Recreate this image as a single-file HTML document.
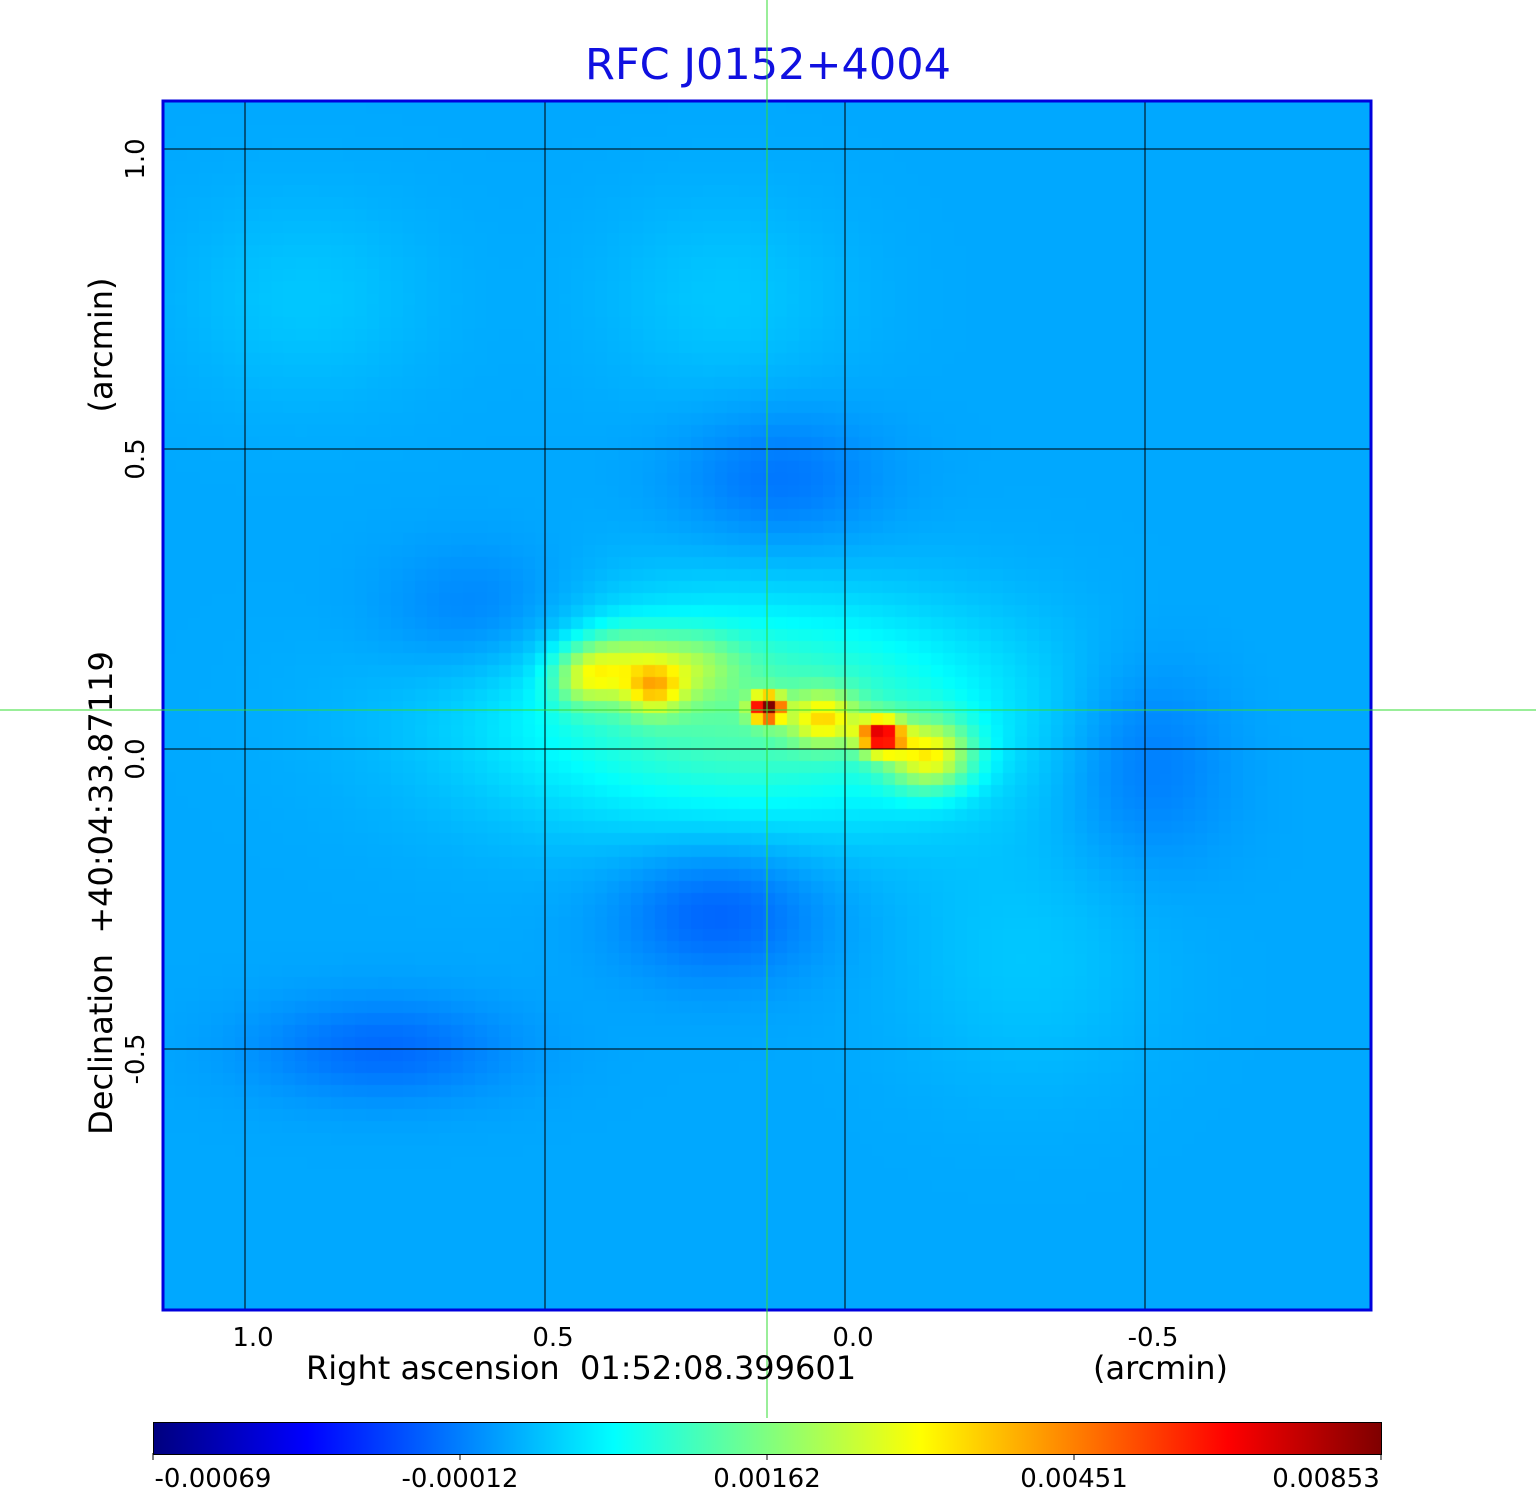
<!DOCTYPE html>
<html><head><meta charset="utf-8"><style>
body{margin:0;background:#fff;width:1536px;height:1511px;position:relative;overflow:hidden;font-family:"DejaVu Sans","Liberation Sans",sans-serif;}
.t{position:absolute;white-space:nowrap;color:#000;}
.rot{transform:translate(-50%,-50%) rotate(-90deg);}
</style></head><body>
<div class="t" style="left:0;width:1536px;top:40px;text-align:center;font-size:43px;color:#1010e0;">RFC J0152+4004</div>
<canvas id="map" width="1208" height="1209" style="position:absolute;left:163px;top:101px;"></canvas>
<svg id="ov" width="1536" height="1511" style="position:absolute;left:0;top:0;pointer-events:none"></svg>
<div class="t rot" style="left:101px;top:893px;font-size:32px;">Declination&nbsp; +40:04:33.87119</div>
<div class="t rot" style="left:101px;top:345px;font-size:32px;">(arcmin)</div>
<div class="t" style="left:306px;top:1349px;font-size:32px;">Right ascension&nbsp; 01:52:08.399601</div>
<div class="t" style="left:1093px;top:1349px;font-size:32px;">(arcmin)</div>
<div style="position:absolute;left:153px;top:1422px;width:1227px;height:31px;border:1px solid #000;background:linear-gradient(to right,#00007f 0%,#0000ff 12.5%,#00ffff 37.5%,#ffff00 62.5%,#ff0000 87.5%,#7f0000 100%);"></div>
<script>
// data
const xTicks=[1.0,0.5,0.0,-0.5];
const xTickLabels=["1.0","0.5","0.0","-0.5"];
const yTicks=[1.0,0.5,0.0,-0.5];
const yTickLabels=["1.0","0.5","0.0","-0.5"];
const cbarLabels=["-0.00069","-0.00012","0.00162","0.00451","0.00853"];
const background=0.29;
// components: ra offset (arcmin), dec offset, amplitude, sigma ra, sigma dec
const compRa=[0.16,0.43,0.37,0.32,0.26,0.13,0.035,-0.06,-0.14,0.21,0.11,0.77,0.6,-0.5,-0.3,0.9,0.2];
const compDec=[0.06,0.12,0.15,0.10,0.14,0.068,0.05,0.022,-0.01,-0.27,0.45,-0.5,0.22,-0.02,-0.35,0.75,0.75];
const compAmp=[0.17,0.19,0.12,0.2,0.12,0.6,0.22,0.48,0.26,-0.07,-0.05,-0.06,-0.05,-0.05,0.03,0.03,0.03];
const compSx=[0.3,0.04,0.05,0.035,0.06,0.018,0.04,0.025,0.05,0.12,0.12,0.15,0.12,0.1,0.15,0.15,0.15];
const compSy=[0.13,0.035,0.04,0.03,0.04,0.015,0.03,0.02,0.04,0.08,0.08,0.06,0.08,0.12,0.15,0.12,0.12];

const X0=845,PX=600,Y0=749,PL=163,PT=101,PW=1208,PH=1209;
const xs=ra=>X0-ra*PX, ys=d=>Y0-d*PX;
function jet(v){v=Math.max(0,Math.min(1,v));
 const r=Math.min(Math.max(Math.min(4*v-1.5,-4*v+4.5),0),1),g=Math.min(Math.max(Math.min(4*v-0.5,-4*v+3.5),0),1),b=Math.min(Math.max(Math.min(4*v+0.5,-4*v+2.5),0),1);
 return `rgb(${r*255|0},${g*255|0},${b*255|0})`;}
const cv=document.getElementById('map'),ctx=cv.getContext('2d');
const cell=12;
for(let py=0;py<PH;py+=cell)for(let px=0;px<PW;px+=cell){
 const ra=(X0-(PL+px+cell/2))/PX,dec=(Y0-(PT+py+cell/2))/PX;let v=background;
 for(let i=0;i<compRa.length;i++){const dx=(ra-compRa[i])/compSx[i],dy=(dec-compDec[i])/compSy[i];v+=compAmp[i]*Math.exp(-0.5*(dx*dx+dy*dy));}
 ctx.fillStyle=jet(v);ctx.fillRect(px,py,cell,cell);}
const ns='http://www.w3.org/2000/svg',ov=document.getElementById('ov');
function el(t,a){const e=document.createElementNS(ns,t);for(const k in a)e.setAttribute(k,a[k]);ov.appendChild(e);return e;}
xTicks.forEach((t,i)=>{const l=el('line',{x1:xs(t),x2:xs(t),y1:PT,y2:PT+PH,stroke:'#000','stroke-width':1});
 
 const tx=el('text',{x:xs(t)+8,y:1346,'font-size':26,'text-anchor':'middle','font-family':'DejaVu Sans, sans-serif'});tx.textContent=xTickLabels[i];
 });
yTicks.forEach((t,i)=>{const l=el('line',{x1:PL,x2:PL+PW,y1:ys(t),y2:ys(t),stroke:'#000','stroke-width':1});
 
 const tx=el('text',{x:0,y:0,'font-size':26,'text-anchor':'middle','font-family':'DejaVu Sans, sans-serif',transform:`translate(144,${ys(t)+10}) rotate(-90)`});tx.textContent=yTickLabels[i];
 });
const b=el('rect',{x:PL,y:PT,width:PW,height:PH,fill:'none',stroke:'#0000dd','stroke-width':3});

const ch1=el('line',{x1:767,x2:767,y1:0,y2:1418,stroke:'#33dd33','stroke-width':1});

const ch2=el('line',{x1:0,x2:1536,y1:710,y2:710,stroke:'#33dd33','stroke-width':1});

cbarLabels.forEach((s,i)=>{const x=153+i*307;const tx=el('text',{x:x+(i==0?60:i==4?-55:0),y:1487,'font-size':26,'text-anchor':'middle','font-family':'DejaVu Sans, sans-serif'});tx.textContent=s;
 
 const tk=el('line',{x1:x,x2:x,y1:1453,y2:1460,stroke:'#000'});
 });
</script>
</body></html>
